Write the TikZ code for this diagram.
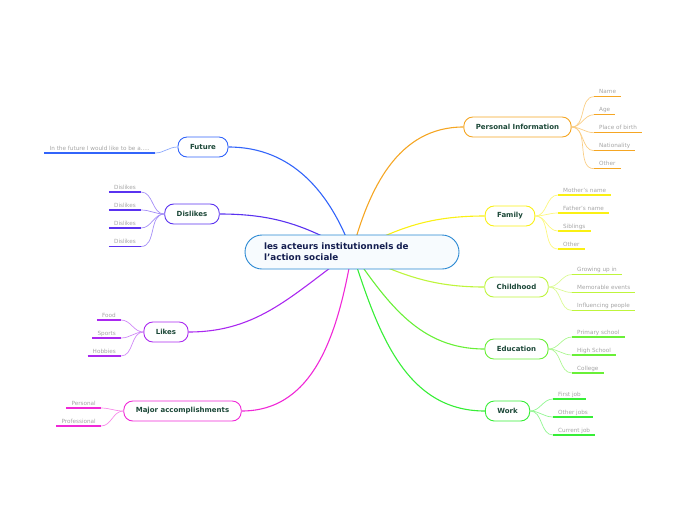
\documentclass[tikz,border=0pt]{standalone}
\usepackage{fontspec}
\setmainfont{DejaVu Sans}
\usetikzlibrary{backgrounds}
\definecolor{cOr}{RGB}{245,166,35}
\definecolor{cYe}{RGB}{250,240,20}
\definecolor{cLi}{RGB}{190,245,60}
\definecolor{cEd}{RGB}{105,240,55}
\definecolor{cWo}{RGB}{55,238,55}
\definecolor{cFu}{RGB}{50,100,250}
\definecolor{cDi}{RGB}{90,50,240}
\definecolor{cLk}{RGB}{170,40,240}
\definecolor{cMa}{RGB}{240,40,215}
\definecolor{cCe}{RGB}{40,135,210}
\definecolor{cCf}{RGB}{247,251,254}
\definecolor{navy}{RGB}{20,30,80}
\definecolor{ntext}{RGB}{28,72,56}
\definecolor{lgray}{RGB}{165,165,165}
\begin{document}
\begin{tikzpicture}[x=1pt,y=1pt,
  main/.style={draw=#1, line width=0.9pt, rounded corners=9pt, fill=white, minimum height=20pt, inner xsep=12pt, inner ysep=0pt, font=\fontsize{7}{8}\selectfont\bfseries, text=ntext},
  leaf/.style={inner xsep=5pt, inner ysep=2.8pt, text depth=0pt, font=\fontsize{5.7}{6.5}\selectfont, text=lgray},
  branch/.style={draw=#1, line width=1.1pt},
  sub/.style={draw=#1!55!white, line width=0.7pt},
  uline/.style={draw=#1, line width=1.4pt}]
\useasboundingbox (0,0) rectangle (696,-520);

\node[draw=cCe, line width=0.9pt, fill=cCf, rounded corners=17pt, minimum height=34pt, text width=176pt, inner xsep=19pt, inner ysep=4pt, align=left, font=\fontsize{8.8}{11}\selectfont\bfseries, text=navy] (c) at (352,-252) {les acteurs institutionnels de\\l’action sociale};

\node[main=cOr] (pi) at (517.5,-127) {Personal Information};
\node[main=cYe] (fa) at (510,-216) {Family};
\node[main=cLi] (ch) at (516.5,-287) {Childhood};
\node[main=cEd] (ed) at (516.5,-349) {Education};
\node[main=cWo] (wo) at (507.5,-411) {Work};
\node[main=cFu] (fu) at (203,-147) {Future};
\node[main=cDi] (di) at (192,-214) {Dislikes};
\node[main=cLk] (lk) at (166,-332) {Likes};
\node[main=cMa] (ma) at (182.5,-411) {Major accomplishments};

\begin{pgfonlayer}{background}
\draw[branch=cOr] (c.center) to[out=75,in=180] (pi.west);
\draw[branch=cYe] (c.center) to[out=28,in=180] (fa.west);
\draw[branch=cLi] (c.center) to[out=-25,in=180] (ch.west);
\draw[branch=cEd] (c.center) to[out=-55,in=180] (ed.west);
\draw[branch=cWo] (c.center) to[out=-72,in=180] (wo.west);
\draw[branch=cFu] (c.center) to[out=110,in=0] (fu.east);
\draw[branch=cDi] (c.center) to[out=150,in=0] (di.east);
\draw[branch=cLk] (c.center) to[out=-145,in=0] (lk.east);
\draw[branch=cMa] (c.center) to[out=-100,in=0] (ma.east);
\end{pgfonlayer}

\foreach \n/\t/\y in {p1/Name/96.7, p2/Age/114.7, p3/Place of birth/132.7, p4/Nationality/150.7, p5/Other/168.7}{
  \node[leaf, anchor=south west] (\n) at (594,-\y) {\t};
  \draw[sub=cOr] (pi.east) to[out=0,in=180] (\n.south west);
  \draw[uline=cOr] (\n.south west) -- (\n.south east);
}
\foreach \n/\t/\y in {f1/Mother’s name/195, f2/Father’s name/213, f3/Siblings/231, f4/Other/249}{
  \node[leaf, anchor=south west] (\n) at (558,-\y) {\t};
  \draw[sub=cYe] (fa.east) to[out=0,in=180] (\n.south west);
  \draw[uline=cYe] (\n.south west) -- (\n.south east);
}
\foreach \n/\t/\y in {h1/Growing up in/274.5, h2/Memorable events/292.5, h3/Influencing people/310.5}{
  \node[leaf, anchor=south west] (\n) at (572,-\y) {\t};
  \draw[sub=cLi] (ch.east) to[out=0,in=180] (\n.south west);
  \draw[uline=cLi] (\n.south west) -- (\n.south east);
}
\foreach \n/\t/\y in {e1/Primary school/337, e2/High School/355, e3/College/373}{
  \node[leaf, anchor=south west] (\n) at (572,-\y) {\t};
  \draw[sub=cEd] (ed.east) to[out=0,in=180] (\n.south west);
  \draw[uline=cEd] (\n.south west) -- (\n.south east);
}
\foreach \n/\t/\y in {w1/First job/399, w2/Other jobs/417, w3/Current job/435}{
  \node[leaf, anchor=south west] (\n) at (553,-\y) {\t};
  \draw[sub=cWo] (wo.east) to[out=0,in=180] (\n.south west);
  \draw[uline=cWo] (\n.south west) -- (\n.south east);
}
\node[leaf, anchor=south east] (u1) at (155,-153) {In the future I would like to be a.....};
\draw[sub=cFu] (fu.west) to[out=180,in=0] (u1.south east);
\draw[uline=cFu] (u1.south west) -- (u1.south east);
\foreach \n/\y in {d1/192, d2/210, d3/228, d4/246.5}{
  \node[leaf, anchor=south east] (\n) at (141,-\y) {Dislikes};
  \draw[sub=cDi] (di.west) to[out=180,in=0] (\n.south east);
  \draw[uline=cDi] (\n.south west) -- (\n.south east);
}
\foreach \n/\t/\y in {l1/Food/320, l2/Sports/338, l3/Hobbies/356}{
  \node[leaf, anchor=south east] (\n) at (121,-\y) {\t};
  \draw[sub=cLk] (lk.west) to[out=180,in=0] (\n.south east);
  \draw[uline=cLk] (\n.south west) -- (\n.south east);
}
\foreach \n/\t/\y in {m1/Personal/408, m2/Professional/426}{
  \node[leaf, anchor=south east] (\n) at (101,-\y) {\t};
  \draw[sub=cMa] (ma.west) to[out=180,in=0] (\n.south east);
  \draw[uline=cMa] (\n.south west) -- (\n.south east);
}
\end{tikzpicture}
\end{document}
